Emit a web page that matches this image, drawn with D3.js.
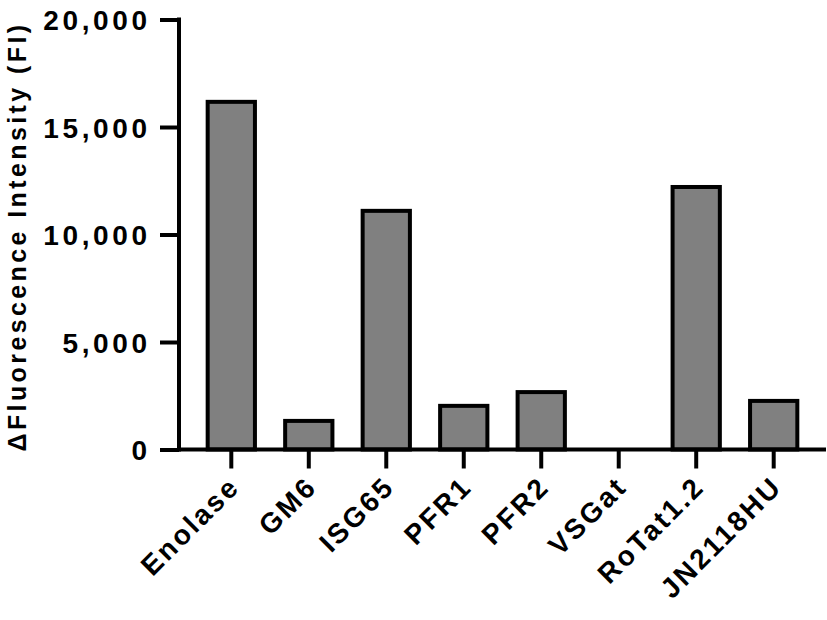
<!DOCTYPE html>
<html>
<head>
<meta charset="utf-8">
<script src="https://cdn.jsdelivr.net/npm/d3@7"></script>
<style>
  body { margin: 0; background: #fff; }
  text { font-family: "Liberation Sans", Arial, sans-serif; font-weight: bold; fill: #000; }
</style>
</head>
<body>
<div id="chart"></div>
<script>
// data
var categories = ["Enolase", "GM6", "ISG65", "PFR1", "PFR2", "VSGat", "RoTat1.2", "JN2118HU"];
var values = [16170, 1330, 11100, 2030, 2670, 0, 12210, 2260];
var yTicks = [0, 5000, 10000, 15000, 20000];
var yTitle = "\u0394Fluorescence Intensity (FI)";

var W = 827, H = 620;
var margin = { top: 19.5, right: 1, bottom: 170.5, left: 179 },
    width = W - margin.left - margin.right,
    height = H - margin.top - margin.bottom;

var svg = d3.select("#chart")
    .append("svg")
    .attr("width", W)
    .attr("height", H)
    .append("g")
    .attr("transform", "translate(" + margin.left + "," + margin.top + ")");

var x = d3.scaleBand()
    .domain(categories)
    .range([0, width])
    .paddingInner(0.39)
    .paddingOuter(0.37);

var y = d3.scaleLinear()
    .domain([0, 20000])
    .range([height, 0]);

// bars
svg.selectAll(".bar")
    .data(categories)
    .enter()
    .append("rect")
    .attr("class", "bar")
    .attr("x", function (d) { return x(d); })
    .attr("width", x.bandwidth())
    .attr("y", function (d, i) { return y(values[i]); })
    .attr("height", function (d, i) { return height - y(values[i]); })
    .style("fill", "#808080")
    .style("stroke", "#000")
    .style("stroke-width", 4);

// Y axis
var yAxis = svg.append("g")
    .call(d3.axisLeft(y).tickValues(yTicks).tickSize(19).tickPadding(13)
        .tickFormat(d3.format(",")));
yAxis.select(".domain").remove();
yAxis.selectAll(".tick line").attr("stroke", "#000").attr("stroke-width", 4);
yAxis.selectAll(".tick text")
    .style("font-size", "28px")
    .style("letter-spacing", "3.6px")
    .attr("dx", "3.6px")
    .attr("dy", "0.36em");
svg.append("line")
    .attr("x1", 0).attr("x2", 0)
    .attr("y1", -2).attr("y2", height + 2)
    .attr("stroke", "#000").attr("stroke-width", 4);

// X axis
var xAxis = svg.append("g")
    .attr("transform", "translate(0," + height + ")")
    .call(d3.axisBottom(x).tickSize(19).tickSizeOuter(0));
xAxis.select(".domain").remove();
xAxis.selectAll(".tick line").attr("stroke", "#000").attr("stroke-width", 4);
xAxis.selectAll(".tick text").remove();
xAxis.selectAll(".tick")
    .append("text")
    .attr("x", 0)
    .attr("y", 0)
    .attr("dy", "0.35em")
    .attr("text-anchor", "end")
    .attr("transform", "translate(3,32) rotate(-45)")
    .style("font-size", "28px")
    .style("letter-spacing", "2.6px")
    .text(function (d) { return d; });
svg.append("line")
    .attr("x1", -2).attr("x2", width)
    .attr("y1", height).attr("y2", height)
    .attr("stroke", "#000").attr("stroke-width", 4);

// Y axis label
svg.append("text")
    .attr("text-anchor", "middle")
    .attr("transform", "translate(" + (-margin.left + 26) + "," + (height / 2 + 2) + ") rotate(-90)")
    .style("font-size", "25px")
    .style("letter-spacing", "3.4px")
    .text(yTitle);
</script>
</body>
</html>
